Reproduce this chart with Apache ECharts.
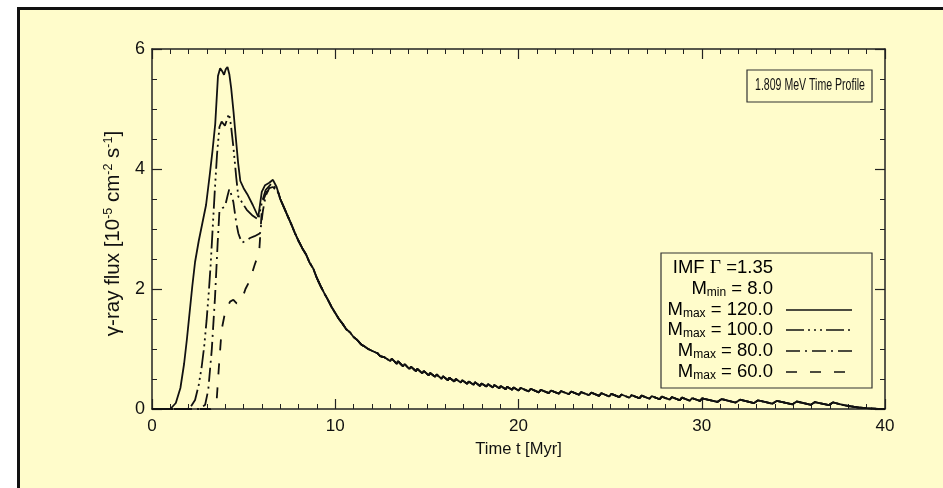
<!DOCTYPE html>
<html>
<head>
<meta charset="utf-8">
<title>1.809 MeV Time Profile</title>
<script src="https://cdn.jsdelivr.net/npm/echarts@6/dist/echarts.min.js"></script>
<style>
  html, body { margin: 0; padding: 0; background: #ffffff; overflow: hidden; }
  #frame {
    position: absolute; left: 17px; top: 7px; width: 1000px; height: 600px;
    border-left: 3px solid #111; border-top: 3px solid #111; background: #fffccb;
  }
  #chart { position: absolute; left: 0; top: 0; width: 943px; height: 488px; }
</style>
</head>
<body>
<div id="frame"></div>
<div id="chart"></div>
<script>
// time in Myr, flux in 1e-5 ph cm^-2 s^-1

// common decay after ~7 Myr (all IMF curves merge here)
const tailPts = [
  [7.0, 3.5], [7.2, 3.36], [7.4, 3.22], [7.6, 3.08], [7.8, 2.93], [8.0, 2.8], [8.2, 2.68],
  [8.4, 2.58], [8.6, 2.44], [8.8, 2.34], [9.0, 2.18], [9.2, 2.05], [9.4, 1.93], [9.6, 1.82],
  [9.8, 1.7], [10.0, 1.6], [10.2, 1.5], [10.4, 1.42], [10.6, 1.33], [10.8, 1.28], [11.0, 1.2],
  [11.2, 1.15], [11.4, 1.08], [11.6, 1.04], [11.8, 1.0], [12.0, 0.97], [12.3, 0.93],
  [12.45, 0.88], [12.7, 0.86], [12.85, 0.83],
  [13.0, 0.80], [13.08, 0.84], [13.35, 0.755], [13.43, 0.795], [13.7, 0.71], [13.78, 0.75],
  [14.05, 0.665], [14.13, 0.705], [14.4, 0.63], [14.48, 0.67], [14.75, 0.595], [14.83, 0.635],
  [15.1, 0.56], [15.18, 0.60], [15.45, 0.535], [15.53, 0.575], [15.8, 0.505], [15.88, 0.545],
  [16.15, 0.48], [16.23, 0.52], [16.5, 0.46], [16.58, 0.50], [16.85, 0.44], [16.93, 0.48],
  [17.2, 0.42], [17.28, 0.46], [17.55, 0.405], [17.63, 0.445], [17.9, 0.385], [17.98, 0.425],
  [18.25, 0.375], [18.33, 0.415], [18.6, 0.36], [18.68, 0.40], [18.95, 0.345], [19.03, 0.385],
  [19.3, 0.33], [19.38, 0.37], [19.65, 0.32], [19.73, 0.36],
  [20.0, 0.308], [20.12, 0.352], [20.55, 0.293], [20.67, 0.337], [21.1, 0.276], [21.22, 0.32],
  [21.65, 0.265], [21.77, 0.309], [22.2, 0.255], [22.32, 0.299], [22.75, 0.247], [22.87, 0.291],
  [23.3, 0.238], [23.42, 0.282], [23.85, 0.23], [23.97, 0.274], [24.4, 0.22], [24.52, 0.264],
  [24.95, 0.209], [25.07, 0.253], [25.5, 0.198], [25.62, 0.242], [26.05, 0.187], [26.17, 0.231],
  [26.6, 0.179], [26.72, 0.223], [27.15, 0.171], [27.27, 0.215], [27.7, 0.163], [27.82, 0.207],
  [28.25, 0.155], [28.37, 0.199], [28.8, 0.146], [28.92, 0.19], [29.35, 0.138], [29.47, 0.182],
  [29.9, 0.134], [30.02, 0.178],
  [30.85, 0.118], [31.09, 0.165], [31.85, 0.108], [32.09, 0.155], [32.85, 0.098], [33.07, 0.145],
  [33.85, 0.088], [34.09, 0.135], [34.95, 0.078], [35.18, 0.125], [35.95, 0.07], [36.18, 0.115],
  [36.95, 0.065], [37.16, 0.11],
  [37.6, 0.075], [38.0, 0.05], [38.5, 0.028], [39.0, 0.013], [39.5, 0.004], [40.0, 0.0]
];

// early part of each curve (M_max = 120, 100, 80, 60)
const headM120 = [
  [0, 0], [1.0, 0], [1.3, 0.1], [1.55, 0.35], [1.75, 0.75], [1.9, 1.15], [2.05, 1.6],
  [2.2, 2.05], [2.35, 2.45], [2.55, 2.8], [2.75, 3.1], [2.95, 3.4], [3.15, 3.9], [3.3, 4.3],
  [3.45, 4.75], [3.6, 5.55], [3.72, 5.68], [3.85, 5.62], [3.93, 5.57], [4.02, 5.66],
  [4.12, 5.7], [4.22, 5.58], [4.32, 5.35], [4.45, 4.95], [4.55, 4.6], [4.7, 4.1], [4.82, 3.8],
  [5.0, 3.68], [5.2, 3.58], [5.5, 3.4], [5.8, 3.2], [5.99, 3.62], [6.17, 3.73], [6.4, 3.77],
  [6.6, 3.82], [6.8, 3.7], [6.9, 3.6]
];
const headM100 = [
  [0, 0], [1.9, 0], [2.1, 0.03], [2.35, 0.15], [2.55, 0.4], [2.71, 0.7], [2.85, 1.05],
  [2.98, 1.48], [3.1, 1.95], [3.2, 2.4], [3.3, 2.95], [3.42, 3.6], [3.55, 4.25], [3.68, 4.7],
  [3.8, 4.79], [3.98, 4.72], [4.2, 4.92], [4.3, 4.75], [4.44, 4.37], [4.6, 3.85], [4.71, 3.54],
  [4.9, 3.45], [5.17, 3.32], [5.5, 3.22], [5.8, 3.16], [6.0, 3.45], [6.2, 3.65], [6.5, 3.75],
  [6.65, 3.72], [6.9, 3.6]
];
const headM80 = [
  [0, 0], [2.6, 0], [2.9, 0.07], [3.07, 0.32], [3.26, 0.98], [3.44, 1.87], [3.58, 2.75],
  [3.68, 3.3], [3.85, 3.35], [3.98, 3.37], [4.12, 3.55], [4.22, 3.67], [4.32, 3.58],
  [4.44, 3.45], [4.6, 3.1], [4.71, 2.93], [4.9, 2.77], [5.1, 2.8], [5.35, 2.85], [5.6, 2.88],
  [5.9, 2.93], [6.05, 3.3], [6.2, 3.55], [6.4, 3.68], [6.6, 3.7], [6.9, 3.6]
];
const headM60 = [
  [0, 0], [3.2, 0], [3.45, 0.05], [3.53, 0.15], [3.65, 0.7], [3.8, 1.32], [3.98, 1.6],
  [4.26, 1.79], [4.44, 1.82], [4.62, 1.76], [4.9, 1.82], [5.1, 2.0], [5.35, 2.15], [5.6, 2.4],
  [5.85, 2.62], [5.99, 3.3], [6.1, 3.5], [6.26, 3.62], [6.5, 3.68], [6.7, 3.68], [6.9, 3.6]
];

const seriesNames = ['Mmax = 120.0', 'Mmax = 100.0', 'Mmax = 80.0', 'Mmax = 60.0'];
const legendValues = ['120.0', '100.0', '80.0', '60.0'];
const dashTypes = ['solid', [18, 4, 2, 4, 2, 4, 2, 4], [14, 5, 2, 5], [11, 13]];
const heads = [headM120, headM100, headM80, headM60];

const FONT = '"Liberation Sans", Arial, Helvetica, sans-serif';
const INK = '#111111';

const chart = echarts.init(document.getElementById('chart'), null, { width: 943, height: 488 });

function frameAxis(extra) {
  return Object.assign({
    type: 'value',
    axisLine: { show: true, onZero: false, lineStyle: { color: '#222', width: 1.5 } },
    axisTick: { show: true, inside: true, length: 10, lineStyle: { color: '#222', width: 1.2 } },
    splitLine: { show: false },
  }, extra);
}

const option = {
  animation: false,
  grid: { left: 152, right: 58, top: 49, bottom: 79, containLabel: false },
  xAxis: [
    frameAxis({
      position: 'bottom', min: 0, max: 40, interval: 10,
      minorTick: { show: true, splitNumber: 10, length: 5, lineStyle: { color: '#222', width: 1 } },
      axisLabel: { color: INK, fontSize: 17, fontFamily: FONT, margin: 9 },
      name: 'Time t [Myr]', nameLocation: 'middle', nameGap: 32,
      nameTextStyle: { color: INK, fontSize: 16.5, fontFamily: FONT }
    }),
    frameAxis({
      position: 'top', min: 0, max: 40, interval: 10,
      minorTick: { show: true, splitNumber: 10, length: 5, lineStyle: { color: '#222', width: 1 } },
      axisLabel: { show: false }
    })
  ],
  yAxis: [
    frameAxis({
      position: 'left', min: 0, max: 6, interval: 2,
      minorTick: { show: true, splitNumber: 4, length: 5, lineStyle: { color: '#222', width: 1 } },
      axisLabel: { color: INK, fontSize: 18, fontFamily: FONT, margin: 7 },
      name: '{n|γ-ray flux [10}{sup|-5}{n| cm}{sup|-2}{n| s}{sup|-1}{n|]}',
      nameLocation: 'middle', nameGap: 26, nameRotate: 90,
      nameTextStyle: {
        color: INK, fontFamily: FONT, padding: [0, 9, 0, 0],
        rich: {
          n: { fontSize: 20.5, lineHeight: 24, fontFamily: FONT, color: INK },
          sup: { fontSize: 12.5, lineHeight: 14, verticalAlign: 'top', fontFamily: FONT, color: INK }
        }
      }
    }),
    frameAxis({
      position: 'right', min: 0, max: 6, interval: 2,
      minorTick: { show: true, splitNumber: 4, length: 5, lineStyle: { color: '#222', width: 1 } },
      axisLabel: { show: false }
    })
  ],
  series: heads.map((h, i) => ({
    name: seriesNames[i],
    type: 'line',
    xAxisIndex: 0, yAxisIndex: 0,
    data: h.concat(tailPts),
    showSymbol: false,
    smooth: false,
    lineStyle: { color: INK, width: 1.8, type: dashTypes[i] },
    z: 10 - i
  })),
  graphic: []
};

// title box
option.graphic.push(
  { type: 'rect', shape: { x: 747, y: 70, width: 125, height: 32 },
    style: { fill: 'none', stroke: '#333', lineWidth: 1.2 } },
  { type: 'text', x: 810, y: 86, scaleX: 0.66,
    style: { text: '1.809 MeV Time Profile', align: 'center', verticalAlign: 'middle',
             font: '16px ' + FONT, fill: INK } }
);

// legend box
const legRows = [268, 289, 310, 330, 351, 372];
const richLeg = {
  n: { fontSize: 18.5, lineHeight: 20, fontFamily: FONT, color: INK },
  g: { fontSize: 19.5, lineHeight: 20, fontFamily: '"Liberation Serif", "Times New Roman", serif', color: INK },
  s: { fontSize: 12, lineHeight: 12, verticalAlign: 'bottom', fontFamily: FONT, color: INK }
};
option.graphic.push(
  { type: 'rect', shape: { x: 661, y: 253, width: 211, height: 135 },
    style: { fill: 'none', stroke: '#333', lineWidth: 1.2 } },
  { type: 'text', x: 773, y: legRows[0],
    style: { text: '{n|IMF }{g|Γ}{n| =1.35}', rich: richLeg, align: 'right', verticalAlign: 'middle' } },
  { type: 'text', x: 773, y: legRows[1],
    style: { text: '{n|M}{s|min}{n| = 8.0}', rich: richLeg, align: 'right', verticalAlign: 'middle' } }
);
legendValues.forEach((v, i) => {
  const y = legRows[i + 2];
  option.graphic.push(
    { type: 'text', x: 773, y: y,
      style: { text: '{n|M}{s|max}{n| = ' + v + '}', rich: richLeg, align: 'right', verticalAlign: 'middle' } },
    { type: 'line', shape: { x1: 786, y1: y, x2: 852, y2: y },
      style: { stroke: INK, lineWidth: 1.7, lineDash: dashTypes[i] === 'solid' ? null : dashTypes[i] } }
  );
});

chart.setOption(option);
</script>
</body>
</html>
